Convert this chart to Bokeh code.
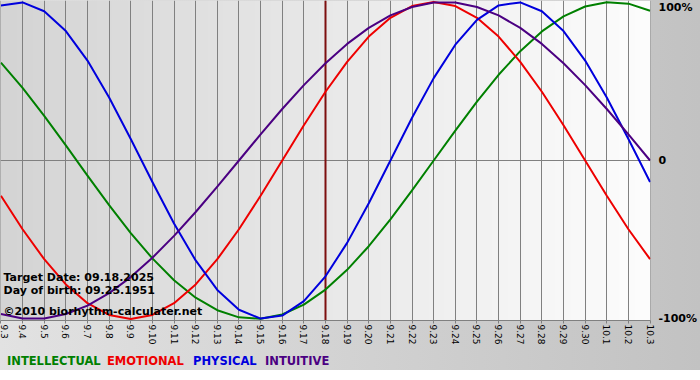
import numpy as np
from bokeh.plotting import figure
from bokeh.models import Range1d, FixedTicker, Span, Label, LinearAxis, Div
from bokeh.layouts import column
from bokeh.embed import file_html
from bokeh.resources import INLINE

# ---------------- data ----------------
DAY_LABELS = ["9.3", "9.4", "9.5", "9.6", "9.7", "9.8", "9.9", "9.10", "9.11", "9.12",
              "9.13", "9.14", "9.15", "9.16", "9.17", "9.18", "9.19", "9.20", "9.21",
              "9.22", "9.23", "9.24", "9.25", "9.26", "9.27", "9.28", "9.29", "9.30",
              "10.1", "10.2", "10.3"]

INTELLECTUAL = [0.618, 0.458, 0.282, 0.095, -0.095, -0.282, -0.458, -0.618, -0.756,
                -0.866, -0.945, -0.990, -0.999, -0.972, -0.910, -0.815, -0.690, -0.541,
                -0.372, -0.189, 0.000, 0.189, 0.372, 0.541, 0.690, 0.815, 0.910, 0.972,
                0.999, 0.990, 0.945]
EMOTIONAL = [-0.223, -0.434, -0.623, -0.782, -0.901, -0.975, -1.000, -0.975, -0.901,
             -0.782, -0.623, -0.434, -0.223, 0.000, 0.223, 0.434, 0.623, 0.782, 0.901,
             0.975, 1.000, 0.975, 0.901, 0.782, 0.623, 0.434, 0.223, 0.000, -0.223,
             -0.434, -0.623]
PHYSICAL = [0.979, 0.998, 0.942, 0.817, 0.631, 0.398, 0.136, -0.136, -0.398, -0.631,
            -0.817, -0.942, -0.998, -0.979, -0.888, -0.731, -0.520, -0.270, 0.000,
            0.270, 0.520, 0.731, 0.888, 0.979, 0.998, 0.942, 0.817, 0.631, 0.398,
            0.136, -0.136]
INTUITIVE = [-0.969, -0.997, -0.997, -0.969, -0.916, -0.837, -0.736, -0.614, -0.476,
             -0.325, -0.165, 0.000, 0.165, 0.325, 0.476, 0.614, 0.736, 0.837, 0.916,
             0.969, 0.997, 0.997, 0.969, 0.916, 0.837, 0.736, 0.614, 0.476, 0.325,
             0.165, 0.000]

SERIES_NAMES = ["INTELLECTUAL", "EMOTIONAL", "PHYSICAL", "INTUITIVE"]
SERIES_COLORS = ["#008000", "#ee0000", "#0000dd", "#4b0082"]
TARGET_INDEX = 15
INFO_LINES = ["Target Date: 09.18.2025", "Day of birth: 09.25.1951",
              "\u00a92010 biorhythm-calculater.net"]
PCT_VALUES = [1, 0, -1]
PCT_LABELS = ["100%", "0", "-100%"]

# ---------------- layout ----------------
W = 700
FRAME_W = 651
FRAME_H = 320
FIG_H = 348
LEG_H = 22
x0, x1 = -0.02, 30.02
y0, y1 = -1.01, 1.01
PX = FRAME_W / (x1 - x0)          # pixels per day
PY = FRAME_H / (y1 - y0)          # pixels per unit
days = list(range(len(DAY_LABELS)))
FONT = "DejaVu Sans"
BG = "linear-gradient(to right, #e2e2e2, #c2c2c2)"


def px_to_x(px):
    return x0 + px / PX


def py_to_y(py):
    return y1 - py / PY


p = figure(width=W, height=FIG_H, output_backend="svg", toolbar_location=None,
           x_range=Range1d(x0, x1), y_range=Range1d(y0, y1),
           y_axis_location=None, min_border=0)
p.min_border_left = 0
p.min_border_top = 0
p.min_border_right = W - FRAME_W
p.min_border_bottom = FIG_H - FRAME_H
p.outline_line_color = None
p.border_fill_alpha = 0
p.background_fill_alpha = 0
p.styles = {"background": BG}

# plot-area horizontal gradient
N = FRAME_W
t = np.linspace(0.0, 1.0, N)
gray = (212 + 41 * t).astype(np.uint8)
img = np.zeros((2, N), dtype=np.uint32)
view = img.view(dtype=np.uint8).reshape((2, N, 4))
view[:, :, 0] = gray
view[:, :, 1] = gray
view[:, :, 2] = gray
view[:, :, 3] = 255
p.image_rgba(image=[img], x=x0, y=y0, dw=x1 - x0, dh=y1 - y0, level="image")

# grid
p.xgrid.ticker = FixedTicker(ticks=days)
p.xgrid.grid_line_color = "#808080"
p.xgrid.grid_line_width = 1
for g in p.ygrid:
    g.visible = False
p.add_layout(Span(location=0, dimension="width", line_color="#808080",
                  line_width=1, level="underlay"))

# x axis
ax = p.xaxis[0]
ax.ticker = FixedTicker(ticks=days)
ax.major_label_overrides = {i: lab for i, lab in enumerate(DAY_LABELS)}
ax.major_label_orientation = -np.pi / 2
ax.major_label_text_font = FONT
ax.major_label_text_font_size = "9px"
ax.major_label_text_color = "black"
ax.major_label_standoff = 1
ax.axis_line_color = "#808080"
ax.major_tick_line_color = "#808080"
ax.major_tick_in = 0
ax.major_tick_out = 3
ax.minor_tick_line_color = None

# right percent axis (top label sits just inside the top edge, as in the reference)
top_pos = py_to_y(7)
tick_pos = [top_pos if v == 1 else v for v in PCT_VALUES]
rax = LinearAxis(ticker=FixedTicker(ticks=tick_pos),
                 major_label_overrides={tp: lab for tp, lab in zip(tick_pos, PCT_LABELS)})
rax.axis_line_color = None
rax.major_tick_line_color = None
rax.minor_tick_line_color = None
rax.major_tick_in = 0
rax.major_tick_out = 0
rax.major_label_standoff = 8
rax.major_label_text_font = FONT
rax.major_label_text_font_size = "11px"
rax.major_label_text_font_style = "bold"
rax.major_label_text_color = "black"
p.add_layout(rax, "right")

# target date line
p.add_layout(Span(location=TARGET_INDEX, dimension="height", line_color="#7d0f0f",
                  line_width=2, level="underlay"))

# curves
for vals, col in zip([INTELLECTUAL, EMOTIONAL, PHYSICAL, INTUITIVE], SERIES_COLORS):
    p.line(days, vals, line_color=col, line_width=2, line_join="round")

# info text
for txt, base in zip(INFO_LINES, [277, 290, 310.5]):
    p.add_layout(Label(x=px_to_x(3), y=py_to_y(base), text=txt, text_font=FONT,
                       text_font_size="11px", text_font_style="bold",
                       text_color="black", text_baseline="alphabetic",
                       text_align="left"))

# legend row
slot_widths = [100, 86, 72, 90]
spans = "".join(
    '<span style="display:inline-block;white-space:nowrap;width:%dpx;color:%s">%s</span>'
    % (w, c, n) for n, c, w in zip(SERIES_NAMES, SERIES_COLORS, slot_widths))
legend = Div(text='<div style="padding-top:6px;padding-left:7px;line-height:14px;'
                  'white-space:nowrap;font-family:\'DejaVu Sans\';font-size:11.5px;'
                  'font-weight:bold">' + spans + '</div>',
             width=W, height=LEG_H, margin=(0, 0, 0, 0), styles={"background": BG})

layout = column(p, legend, spacing=0)
open("out.html", "w").write(file_html(layout, INLINE))
